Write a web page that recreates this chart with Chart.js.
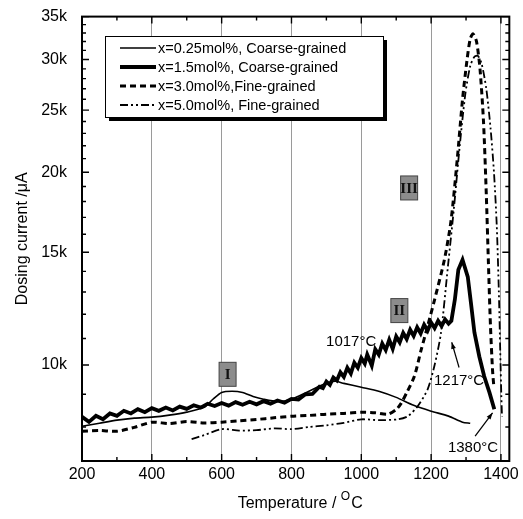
<!DOCTYPE html>
<html>
<head>
<meta charset="utf-8">
<script src="https://cdn.jsdelivr.net/npm/chart.js@4.4.1/dist/chart.umd.min.js"></script>
<style>
  html, body { margin: 0; padding: 0; background: #fff; }
  canvas { display: block; }
</style>
</head>
<body>
<canvas id="myChart" width="523" height="519"></canvas>
<script>
// x = 0.25 mol%, coarse-grained (thin solid)
const tempA = [200, 250, 300, 350, 400, 450, 500, 550, 575, 600, 630, 660, 690, 720, 760, 800, 850, 900, 925, 950, 1000, 1050, 1100, 1150, 1200, 1250, 1290, 1312];
const curA = [8020, 8110, 8200, 8260, 8290, 8350, 8440, 8590, 8840, 9060, 9100, 9060, 8930, 8840, 8770, 8840, 9100, 9360, 9430, 9360, 9230, 9100, 8900, 8650, 8470, 8320, 8140, 8110];

// x = 1.5 mol%, coarse-grained (thick solid, noisy)
const tempB = [200, 220, 240, 260, 280, 300, 320, 340, 360, 380, 400, 420, 440, 460, 480, 500, 520, 540, 560, 580, 600, 620, 640, 660, 680, 700, 720, 740, 760, 780, 800, 820, 840, 860, 880,
  890, 900, 910, 920, 930, 940, 950, 960, 970, 980, 990, 1000, 1010, 1017, 1030, 1040, 1050, 1060, 1070, 1080, 1090, 1100, 1110, 1120, 1130, 1140, 1150, 1160, 1170, 1180, 1190, 1200, 1210, 1220, 1230, 1240, 1250, 1258,
  1268, 1278, 1290, 1305, 1314, 1324, 1338, 1352, 1367, 1381];
const curB = [8300, 8150, 8330, 8230, 8400, 8330, 8480, 8400, 8530, 8440, 8560, 8480, 8580, 8490, 8610, 8540, 8650, 8580, 8700, 8630, 8720, 8640, 8750, 8670, 8760, 8680, 8780, 8700, 8800, 8730, 8850, 8830, 9000, 9010, 9250,
  9200, 9420, 9310, 9560, 9460, 9740, 9580, 9900, 9700, 10080, 9900, 10250, 10050, 10380, 9980, 10580, 10380, 10800, 10550, 10950, 10600, 11080, 10850, 11220, 10980, 11350, 11100, 11450, 11200, 11560, 11320, 11650, 11420, 11720, 11500, 11780, 11600, 11720,
  12650, 14080, 14600, 13730, 12510, 11240, 10310, 9600, 9060, 8530];

// x = 3.0 mol%, fine-grained (dashed)
const tempC = [200, 250, 300, 350, 400, 450, 500, 550, 600, 650, 700, 750, 800, 850, 900, 950, 1000, 1040, 1076, 1100, 1114, 1130, 1152, 1171, 1190, 1210, 1238, 1257, 1275, 1290, 1303, 1312, 1320, 1330, 1340, 1350, 1358, 1364, 1370, 1376, 1380];
const curC = [7880, 7900, 7880, 7990, 8140, 8100, 8160, 8120, 8140, 8180, 8220, 8270, 8315, 8340, 8380, 8400, 8435, 8420, 8375, 8520, 8710, 9050, 9600, 10535, 11500, 12650, 14600, 16800, 21000, 26000, 30000, 32300, 32900, 32000, 29000, 24000, 18500, 14500, 11500, 9800, 9200];

// x = 5.0 mol%, fine-grained (dash-dot-dot)
const tempD = [514, 550, 600, 650, 700, 750, 800, 850, 900, 950, 1000, 1050, 1106, 1133, 1160, 1190, 1210, 1228, 1248, 1265, 1282, 1298, 1312, 1324, 1334, 1345, 1358, 1370, 1380, 1388, 1394, 1398, 1401, 1403];
const curD = [7660, 7770, 7940, 7900, 7910, 7960, 7940, 8000, 8050, 8120, 8225, 8200, 8225, 8315, 8600, 9160, 10000, 11200, 14230, 17500, 22000, 26500, 29300, 30300, 30400, 29500, 27000, 23500, 20000, 16500, 13000, 10500, 9000, 8300];

const seriesNames = ['x=0.25mol%, Coarse-grained', 'x=1.5mol%, Coarse-grained', 'x=3.0mol%,Fine-grained', 'x=5.0mol%, Fine-grained'];

const xTickValues = [200, 300, 400, 500, 600, 700, 800, 900, 1000, 1100, 1200, 1300, 1400];
const xGridValues = [400, 600, 800, 1000, 1200, 1400];
const yTickValues = [8000, 9000, 10000, 11000, 12000, 13000, 14000, 15000, 16000, 17000, 18000, 19000, 20000,
  21000, 22000, 23000, 24000, 25000, 26000, 27000, 28000, 29000, 30000, 31000, 32000, 33000, 34000, 35000];
const yMajor = [10000, 15000, 20000, 25000, 30000, 35000];
const yMajorLabels = ['10k', '15k', '20k', '25k', '30k', '35k'];

// text notes: [label, temperature, current]
const notes = [
  ['1017°C', 971, 10880],
  ['1217°C', 1280, 9460],
  ['1380°C', 1320, 7410]
];
// arrows: [fromT, fromI, toT, toI]
const arrows = [
  [1280, 9910, 1259, 10850],
  [1326, 7740, 1376, 8420]
];
// roman markers: [label, temperature, current]
const markers = [
  ['I', 617, 9670],
  ['II', 1109, 12160],
  ['III', 1137, 18900]
];

const font = "'Liberation Sans', Arial, sans-serif";
const pts = (xs, ys) => xs.map((x, i) => ({ x: x, y: ys[i] }));

const styles = [
  { width: 1.6, dash: [], tension: 0.25 },
  { width: 3.8, dash: [], tension: 0 },
  { width: 3, dash: [6, 4], tension: 0.25 },
  { width: 1.8, dash: [8, 3, 2, 3, 2, 3], tension: 0.25 }
];

const decor = {
  id: 'decor',
  afterDraw(chart) {
    const c = chart.ctx;
    const a = chart.chartArea;
    const xs = chart.scales.x, ys = chart.scales.y;
    c.save();
    c.strokeStyle = '#000';
    c.fillStyle = '#000';

    // inward tick marks
    c.lineWidth = 1.4;
    xTickValues.forEach(v => {
      const px = xs.getPixelForValue(v);
      const len = v % 200 === 0 ? 7 : 4;
      c.beginPath();
      c.moveTo(px, a.bottom); c.lineTo(px, a.bottom - len);
      c.moveTo(px, a.top); c.lineTo(px, a.top + len);
      c.stroke();
    });
    yTickValues.forEach(v => {
      const py = ys.getPixelForValue(v);
      const len = yMajor.includes(v) ? 7 : 4;
      c.beginPath();
      c.moveTo(a.left, py); c.lineTo(a.left + len, py);
      c.moveTo(a.right, py); c.lineTo(a.right - len, py);
      c.stroke();
    });

    // frame
    c.lineWidth = 2;
    c.strokeRect(a.left, a.top, a.right - a.left, a.bottom - a.top);

    // legend
    const lx = 105, ly = 36, lw = 278, lh = 81;
    c.fillRect(lx + 4, ly + 4, lw, lh);
    c.fillStyle = '#fff';
    c.fillRect(lx, ly, lw, lh);
    c.lineWidth = 1;
    c.strokeRect(lx + 0.5, ly + 0.5, lw, lh);
    c.fillStyle = '#000';
    c.font = '14.5px ' + font;
    c.textBaseline = 'middle';
    c.textAlign = 'left';
    seriesNames.forEach((name, i) => {
      const y = ly + 12 + i * 19;
      c.save();
      c.lineWidth = styles[i].width;
      c.setLineDash(styles[i].dash);
      c.beginPath();
      c.moveTo(120, y); c.lineTo(156, y);
      c.stroke();
      c.restore();
      c.fillText(name, 158, y + 1);
    });

    // roman markers
    markers.forEach(([t, tv, iv]) => {
      const px = xs.getPixelForValue(tv), py = ys.getPixelForValue(iv);
      const w = 17, h = 24;
      c.fillStyle = '#8c8c8c';
      c.fillRect(px - w / 2, py - h / 2, w, h);
      c.lineWidth = 1;
      c.strokeStyle = '#444';
      c.strokeRect(px - w / 2, py - h / 2, w, h);
      c.fillStyle = '#111';
      c.font = 'bold 15px "Liberation Serif", serif';
      c.textAlign = 'center';
      c.fillText(t, px, py + 1);
    });
    c.strokeStyle = '#000';
    c.fillStyle = '#000';

    // notes
    c.font = '15px ' + font;
    c.textAlign = 'center';
    notes.forEach(([t, tv, iv]) => {
      c.fillText(t, xs.getPixelForValue(tv), ys.getPixelForValue(iv));
    });
    c.lineWidth = 1.2;
    arrows.forEach(([t0, i0, t1, i1]) => {
      const x0 = xs.getPixelForValue(t0), y0 = ys.getPixelForValue(i0);
      const x1 = xs.getPixelForValue(t1), y1 = ys.getPixelForValue(i1);
      const ang = Math.atan2(y1 - y0, x1 - x0);
      c.beginPath();
      c.moveTo(x0, y0); c.lineTo(x1, y1);
      c.stroke();
      c.beginPath();
      c.moveTo(x1, y1);
      c.lineTo(x1 - 7 * Math.cos(ang - 0.35), y1 - 7 * Math.sin(ang - 0.35));
      c.lineTo(x1 - 7 * Math.cos(ang + 0.35), y1 - 7 * Math.sin(ang + 0.35));
      c.closePath();
      c.fill();
    });

    // axis titles
    c.font = '16px ' + font;
    c.textBaseline = 'alphabetic';
    const main = 'Temperature / ';
    c.textAlign = 'left';
    const w1 = c.measureText(main).width;
    c.font = '12px ' + font;
    const w2 = c.measureText('O').width;
    c.font = '16px ' + font;
    const w3 = c.measureText('C').width;
    const sx = (a.left + a.right) / 2 - (w1 + w2 + w3) / 2 + 4;
    const by = 508;
    c.fillText(main, sx, by);
    c.font = '12px ' + font;
    c.fillText('O', sx + w1, by - 8);
    c.font = '16px ' + font;
    c.fillText('C', sx + w1 + w2 + 1, by);

    c.save();
    c.translate(27, (a.top + a.bottom) / 2);
    c.rotate(-Math.PI / 2);
    c.textAlign = 'center';
    c.fillText('Dosing current /\u03bcA', 0, 0);
    c.restore();

    c.restore();
  }
};

const ctx = document.getElementById('myChart').getContext('2d');
const myChart = new Chart(ctx, {
  type: 'line',
  data: {
    datasets: [
      { label: seriesNames[0], data: pts(tempA, curA) },
      { label: seriesNames[1], data: pts(tempB, curB) },
      { label: seriesNames[2], data: pts(tempC, curC) },
      { label: seriesNames[3], data: pts(tempD, curD) }
    ].map((d, i) => Object.assign(d, {
      borderColor: '#000',
      borderWidth: styles[i].width,
      borderDash: styles[i].dash,
      pointRadius: 0,
      fill: false,
      tension: styles[i].tension
    }))
  },
  options: {
    responsive: false,
    animation: false,
    layout: { padding: { left: 0, top: 16, right: 13, bottom: 0 } },
    plugins: { legend: { display: false }, tooltip: { enabled: false } },
    scales: {
      x: {
        type: 'linear',
        min: 200,
        max: 1424,
        afterBuildTicks: s => { s.ticks = xTickValues.map(v => ({ value: v })); },
        afterFit: s => { s.height = 58; },
        grid: {
          drawTicks: false,
          color: c => xGridValues.includes(c.tick && c.tick.value) ? '#9a9a9a' : 'rgba(0,0,0,0)',
          lineWidth: 1
        },
        border: { display: false },
        ticks: {
          autoSkip: false,
          maxRotation: 0,
          padding: 4,
          color: '#000',
          font: { family: font, size: 16 },
          callback: v => (v % 200 === 0 ? String(v) : '')
        }
      },
      y: {
        type: 'logarithmic',
        min: 7080,
        max: 35000,
        afterBuildTicks: s => { s.ticks = yTickValues.map(v => ({ value: v })); },
        afterFit: s => { s.width = 82; },
        grid: { display: false },
        border: { display: false },
        ticks: {
          autoSkip: false,
          padding: 7,
          color: '#000',
          font: { family: font, size: 16 },
          callback: v => {
            const k = yMajor.indexOf(v);
            return k >= 0 ? yMajorLabels[k] : '';
          }
        }
      }
    }
  },
  plugins: [decor]
});
</script>
</body>
</html>
